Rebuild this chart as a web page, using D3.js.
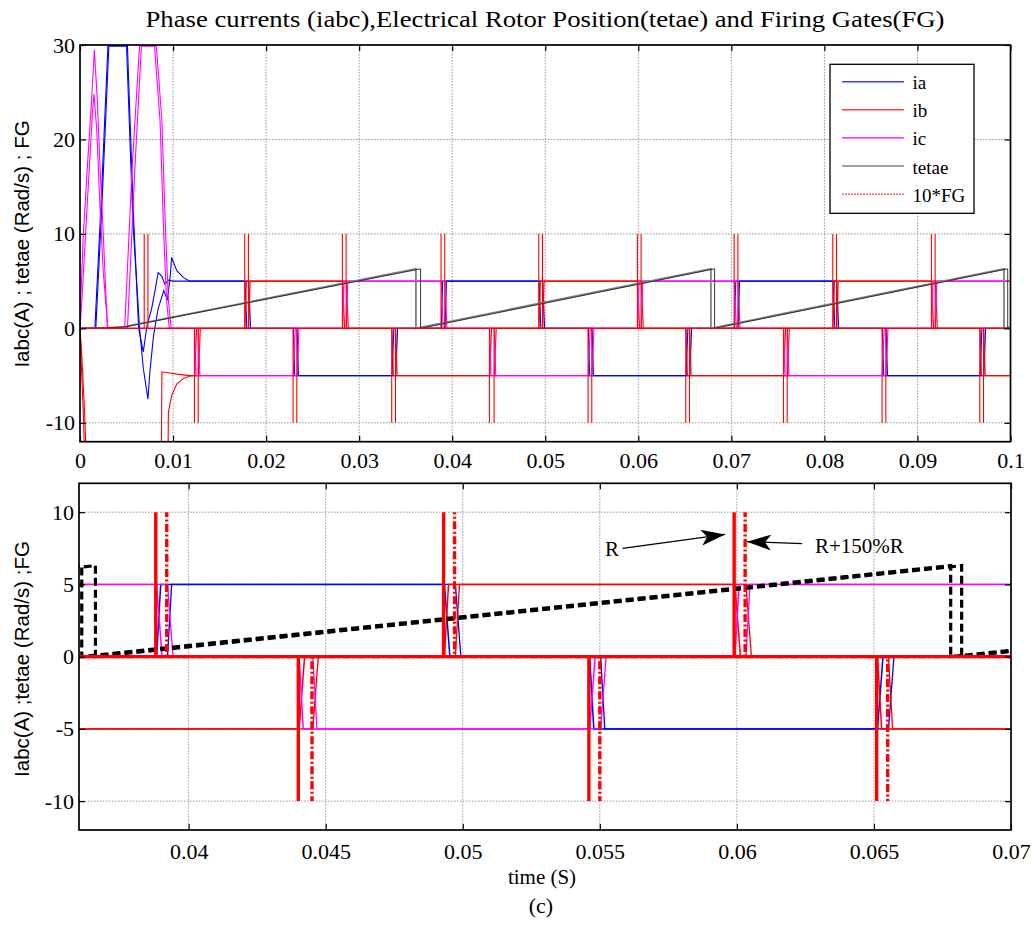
<!DOCTYPE html>
<html>
<head>
<meta charset="utf-8">
<script src="https://cdnjs.cloudflare.com/ajax/libs/d3/7.8.5/d3.min.js"></script>
<style>
  body { margin: 0; background: #fff; }
  svg { display: block; }
  .tick text { font-family: 'Liberation Serif', 'Times New Roman', serif; }
</style>
</head>
<body>
<svg id="chart" width="1034" height="931"></svg>
<script>
// ---------------------------------------------------------------------------
// Simulation traces: BLDC drive, nominal resistance R and R+150%R
// ---------------------------------------------------------------------------

// commutation instants (s) of the nominal run and of the R+150%R run
const commR    = [0.0069, 0.0123, 0.0177, 0.0229, 0.0282, 0.0335, 0.0388, 0.0440, 0.0493,
                  0.0546, 0.0599, 0.0651, 0.0703, 0.0756, 0.0809, 0.0862, 0.0915, 0.0967];
const commR150 = [0.0073, 0.0127, 0.0181, 0.0233, 0.0286, 0.0339, 0.0392, 0.0445, 0.0497,
                  0.0550, 0.0603, 0.0655, 0.0707, 0.0760, 0.0813, 0.0866, 0.0919, 0.0971];

// 10*FG pulse fired at each commutation
const fgPulse  = [10, -10, 10, -10, 10, -10, 10, -10, 10, -10, 10, -10, 10, -10, 10, -10, 10, -10];

// phase current level (A) held after each commutation
const iaLevels = [5, 5, 0, -5, -5, 0, 5, 5, 0, -5, -5, 0, 5, 5, 0, -5, -5, 0];
const ibLevels = [-5, 0, 5, 5, 0, -5, -5, 0, 5, 5, 0, -5, -5, 0, 5, 5, 0, -5];
const icLevels = [0, -5, -5, 0, 5, 5, 0, -5, -5, 0, 5, 5, 0, -5, -5, 0, 5, 5];

// start-up transients [t (s), i (A)] before the first steady commutation
const iaStartR = [[0, 0], [0.0016, 0], [0.0023, 14], [0.0030, 29.9], [0.0050, 29.9], [0.0057, 11],
  [0.0064, 0], [0.0068, -4.2], [0.0073, -7.5], [0.0075, -4.7], [0.0079, -0.8], [0.0084, 2.1],
  [0.0090, 4.0], [0.0094, 3.0], [0.0097, 5.6], [0.00985, 7.5], [0.0104, 6.1], [0.0111, 5.4],
  [0.0118, 5.0]];
const iaStartR150 = [[0, 0], [0.0017, 0], [0.0024, 14], [0.0031, 29.9], [0.0051, 29.9], [0.0057, 13],
  [0.0063, 0], [0.0068, -2.5], [0.0072, 0.3], [0.0077, 2.1], [0.0081, 4.2], [0.0084, 5.9],
  [0.0088, 5.5], [0.0091, 4.7], [0.0095, 5.1], [0.0100, 5.0]];
const ibStartR = [[0, 0], [0.00004, -0.6], [0.00011, -3.1], [0.00036, -9.1], [0.0007, -20],
  [0.0087, -20], [0.0088, -4.6], [0.0095, -4.7], [0.0104, -4.85], [0.0118, -5.0]];
const ibStartR150 = [[0, 0], [0.0002, -3], [0.0005, -9], [0.0009, -20], [0.0094, -20],
  [0.0095, -8.9], [0.00985, -7.1], [0.0104, -5.9], [0.0111, -5.3], [0.0118, -5.05], [0.0123, -5.0]];
const icStartR = [[0, 0], [0.00007, 2.9], [0.00036, 10], [0.00079, 17.1], [0.00125, 24.2],
  [0.00154, 29.5], [0.00186, 24.2], [0.00215, 17.1], [0.0025, 10], [0.00294, 0], [0.0048, 0],
  [0.0056, 17], [0.0064, 29.9], [0.0080, 29.9], [0.0086, 22], [0.0090, 10], [0.0093, 3],
  [0.0096, 0], [0.0118, 0]];
const icStartR150 = [[0, 0], [0.0002, 3], [0.0006, 10], [0.0010, 17], [0.00135, 23],
  [0.00150, 24.8], [0.00180, 21], [0.0021, 14], [0.0025, 6], [0.0030, 0], [0.0051, 0],
  [0.0059, 17], [0.0066, 29.9], [0.0082, 29.9], [0.0088, 22], [0.0092, 10], [0.0095, 3],
  [0.0098, 0], [0.0118, 0]];

// electrical rotor position tetae (rad), sawtooth resetting every electrical turn
const tetaeR    = [[0, 0], [0.0027, 0.05], [0.0047, 0.15], [0.0361, 6.3], [0.0361, 0],
                   [0.0678, 6.3], [0.0678, 0], [0.0993, 6.3], [0.0993, 0], [0.1, 0.14]];
const tetaeR150 = [[0, 0], [0.0027, 0.05], [0.0048, 0.15], [0.0366, 6.3], [0.0366, 0],
                   [0.0682, 6.3], [0.0682, 0], [0.0997, 6.3], [0.0997, 0], [0.1, 0.06]];

// current rise / fall times at a commutation (s)
const lag = 0.00003, riseTime = 0.00015, fallTime = 0.0002;

// axis ticks
const topXTicks = [0, 0.01, 0.02, 0.03, 0.04, 0.05, 0.06, 0.07, 0.08, 0.09, 0.1];
const topYTicks = [-10, 0, 10, 20, 30];
const botXTicks = [0.04, 0.045, 0.05, 0.055, 0.06, 0.065, 0.07];
const botYTicks = [-10, -5, 0, 5, 10];

// legend entries of the upper plot
const legendNames = ["ia", "ib", "ic", "tetae", "10*FG"];

// annotations of the lower plot [t, value]
const annoR    = { label: "R", text: [0.05519, 7.0], tail: [0.05583, 7.5], tip: [0.05957, 8.46] };
const annoR150 = { label: "R+150%R", text: [0.06285, 7.15], tail: [0.06238, 7.82], tip: [0.06037, 7.96] };

// ---------------------------------------------------------------------------
const svg = d3.select("#chart");
const serif = "'Liberation Serif', 'Times New Roman', serif";
const sans = "'Liberation Sans', Arial, sans-serif";

const C = { ia: "#0000ff", ib: "#ff0000", ic: "#ff00ff", tetae: "#808080", fg: "#ff0000" };

function phaseTrace(start, comm, levels, tEnd) {
  const pts = start.slice();
  for (let k = 1; k < comm.length; k++) {
    const a = levels[k - 1], b = levels[k];
    if (a === b) continue;
    const t = comm[k];
    const dur = b === 0 ? fallTime : riseTime;
    pts.push([t + lag, a], [t + lag + dur, b]);
  }
  pts.push([tEnd, levels[levels.length - 1]]);
  return pts;
}

function fgTrace(comm, tEnd) {
  const pts = [[0, 0]];
  comm.forEach((t, k) => { pts.push([t, 0], [t, fgPulse[k]], null, [t, 0]); });
  pts.push([tEnd, 0]);
  return pts;
}

const ia1 = phaseTrace(iaStartR, commR, iaLevels, 0.1);
const ia2 = phaseTrace(iaStartR150, commR150, iaLevels, 0.1);
const ib1 = phaseTrace(ibStartR, commR, ibLevels, 0.1);
const ib2 = phaseTrace(ibStartR150, commR150, ibLevels, 0.1);
const ic1 = phaseTrace(icStartR, commR, icLevels, 0.1);
const ic2 = phaseTrace(icStartR150, commR150, icLevels, 0.1);
const fg1 = fgTrace(commR, 0.1);
const fg2 = fgTrace(commR150, 0.1);

// ---------------------------------------------------------------------------
function makePanel(id, box, xDom, yDom, xTicks, yTicks, xFmt, labelPad) {
  const x = d3.scaleLinear().domain(xDom).range([box.x0, box.x1]);
  const y = d3.scaleLinear().domain(yDom).range([box.y1, box.y0]);
  const g = svg.append("g");

  svg.append("clipPath").attr("id", id)
    .append("rect").attr("x", box.x0).attr("y", box.y0 - 1)
    .attr("width", box.x1 - box.x0).attr("height", box.y1 - box.y0 + 1);

  // dotted grid at interior ticks
  const grid = g.append("g").attr("stroke", "#8a8a8a").attr("stroke-width", 0.9)
    .attr("stroke-dasharray", "1.5,1.5");
  xTicks.filter(v => x(v) > box.x0 + 1 && x(v) < box.x1 - 1).forEach(v => {
    grid.append("line").attr("x1", x(v)).attr("x2", x(v)).attr("y1", box.y0).attr("y2", box.y1);
  });
  yTicks.filter(v => y(v) > box.y0 + 1 && y(v) < box.y1 - 1).forEach(v => {
    grid.append("line").attr("x1", box.x0).attr("x2", box.x1).attr("y1", y(v)).attr("y2", y(v));
  });

  const plot = g.append("g").attr("clip-path", `url(#${id})`);

  const frame = g.append("g");
  const ax = [
    frame.append("g").attr("transform", `translate(0,${box.y1})`)
      .call(d3.axisBottom(x).tickValues(xTicks).tickFormat(xFmt).tickSize(-6).tickPadding(labelPad.x)),
    frame.append("g").attr("transform", `translate(0,${box.y0})`)
      .call(d3.axisTop(x).tickValues(xTicks).tickFormat("").tickSize(-6)),
    frame.append("g").attr("transform", `translate(${box.x0},0)`)
      .call(d3.axisLeft(y).tickValues(yTicks).tickFormat(d => String(d)).tickSize(-6).tickPadding(labelPad.y)),
    frame.append("g").attr("transform", `translate(${box.x1},0)`)
      .call(d3.axisRight(y).tickValues(yTicks).tickFormat("").tickSize(-6))
  ];
  ax.forEach(a => {
    a.attr("font-family", serif).attr("font-size", 22);
    a.select(".domain").remove();
    a.selectAll(".tick line").attr("stroke", "#000").attr("stroke-width", 1.2);
    a.selectAll(".tick text")
      .attr("font-family", serif)
      .style("font-family", serif).style("font-size", "22px").attr("fill", "#000");
  });
  frame.append("rect").attr("x", box.x0).attr("y", box.y0)
    .attr("width", box.x1 - box.x0).attr("height", box.y1 - box.y0)
    .attr("fill", "none").attr("stroke", "#000").attr("stroke-width", 1.7);

  return { x, y, plot, frame };
}

function trace(p, data, color, width, dash) {
  const line = d3.line().defined(d => d !== null).x(d => p.x(d[0])).y(d => p.y(d[1]));
  const path = p.plot.append("path").attr("d", line(data)).attr("fill", "none")
    .attr("stroke", color).attr("stroke-width", width).attr("stroke-linejoin", "miter");
  if (dash) path.attr("stroke-dasharray", dash);
  return path;
}

const fmtTop = d => String(d);
const fmtBot = d => String(d);

// ----- upper plot: whole run 0..0.1 s -----
const upper = makePanel("clipTop", { x0: 80, x1: 1010.5, y0: 45, y1: 441.7 },
  [0, 0.1], [-12, 30], topXTicks, topYTicks, fmtTop, { x: 11, y: 5 });

trace(upper, ia1, C.ia, 1.1); trace(upper, ia2, C.ia, 1.1);
trace(upper, ib1, C.ib, 1.1); trace(upper, ib2, C.ib, 1.1);
trace(upper, ic1, C.ic, 1.1); trace(upper, ic2, C.ic, 1.1);
trace(upper, tetaeR, C.tetae, 1.8); trace(upper, tetaeR150, "#222", 0.9);
trace(upper, fg1, C.fg, 1.1); trace(upper, fg2, C.fg, 1.1);

// legend
const lg = upper.frame.append("g");
lg.append("rect").attr("x", 830).attr("y", 64.3).attr("width", 144).attr("height", 149)
  .attr("fill", "#fff").attr("stroke", "#000").attr("stroke-width", 1.3);
const legendStyle = [
  { c: C.ia, w: 1.6, d: null }, { c: C.ib, w: 1.6, d: null }, { c: C.ic, w: 1.6, d: null },
  { c: C.tetae, w: 1.8, d: null }, { c: C.fg, w: 1.2, d: "2,1" }
];
legendNames.forEach((name, i) => {
  const yy = 81.7 + i * 28.1;
  const s = legendStyle[i];
  const l = lg.append("line").attr("x1", 842).attr("x2", 904).attr("y1", yy).attr("y2", yy)
    .attr("stroke", s.c).attr("stroke-width", s.w).attr("opacity", 0.75);
  if (s.d) l.attr("stroke-dasharray", s.d);
  lg.append("text").attr("x", 912.5).attr("y", yy + 7.5).text(name)
    .style("font-family", serif).style("font-size", "19px").attr("fill", "#000");
});

// ----- lower plot: zoom on 0.036..0.07 s -----
const lower = makePanel("clipBot", { x0: 79, x1: 1011, y0: 483.3, y1: 830 },
  [0.036, 0.07], [-12, 12], botXTicks, botYTicks, fmtBot, { x: 13, y: 5 });

trace(lower, ia1, C.ia, 1.5); trace(lower, ia2, C.ia, 1.3);
trace(lower, ib1, C.ib, 1.5); trace(lower, ib2, C.ib, 1.3);
trace(lower, ic1, C.ic, 1.5); trace(lower, ic2, C.ic, 1.3);
trace(lower, tetaeR, "#000", 3.2, "8,4"); trace(lower, tetaeR150, "#000", 3.2, "8,4");
trace(lower, fg1, C.fg, 3.4);
trace(lower, fg2, C.fg, 3.4, "8,2.5,2,2.5");

// annotations
const defs = svg.append("defs");
defs.append("marker").attr("id", "head").attr("viewBox", "0 0 24 16")
  .attr("refX", 24).attr("refY", 8).attr("markerWidth", 24).attr("markerHeight", 16)
  .attr("markerUnits", "userSpaceOnUse").attr("orient", "auto")
  .append("path").attr("d", "M0,0 L24,8 L0,16 L6,8 Z").attr("fill", "#000");

[annoR, annoR150].forEach(a => {
  lower.frame.append("line")
    .attr("x1", lower.x(a.tail[0])).attr("y1", lower.y(a.tail[1]))
    .attr("x2", lower.x(a.tip[0])).attr("y2", lower.y(a.tip[1]))
    .attr("stroke", "#000").attr("stroke-width", 1.2).attr("marker-end", "url(#head)");
  lower.frame.append("text").attr("x", lower.x(a.text[0])).attr("y", lower.y(a.text[1]))
    .text(a.label).style("font-family", serif).style("font-size", "21px").attr("fill", "#000");
});

// ----- titles and labels -----
svg.append("text").attr("x", 545).attr("y", 27).attr("text-anchor", "middle")
  .style("font-family", serif).style("font-size", "24px").attr("fill", "#000")
  .attr("textLength", 799).attr("lengthAdjust", "spacingAndGlyphs")
  .text("Phase currents (iabc),Electrical Rotor Position(tetae) and Firing Gates(FG)");

svg.append("text").attr("transform", "translate(29,244) rotate(-90)").attr("text-anchor", "middle")
  .style("font-family", sans).style("font-size", "20.5px").attr("fill", "#000")
  .text("Iabc(A) ; tetae (Rad/s) ; FG");

svg.append("text").attr("transform", "translate(29,659) rotate(-90)").attr("text-anchor", "middle")
  .style("font-family", sans).style("font-size", "20.5px").attr("fill", "#000")
  .text("Iabc(A) ;tetae (Rad/s) ;FG");

svg.append("text").attr("x", 542).attr("y", 884).attr("text-anchor", "middle")
  .style("font-family", serif).style("font-size", "21px").attr("fill", "#000").text("time (S)");

svg.append("text").attr("x", 541).attr("y", 913).attr("text-anchor", "middle")
  .style("font-family", serif).style("font-size", "22px").attr("fill", "#000").text("(c)");
</script>
</body>
</html>
